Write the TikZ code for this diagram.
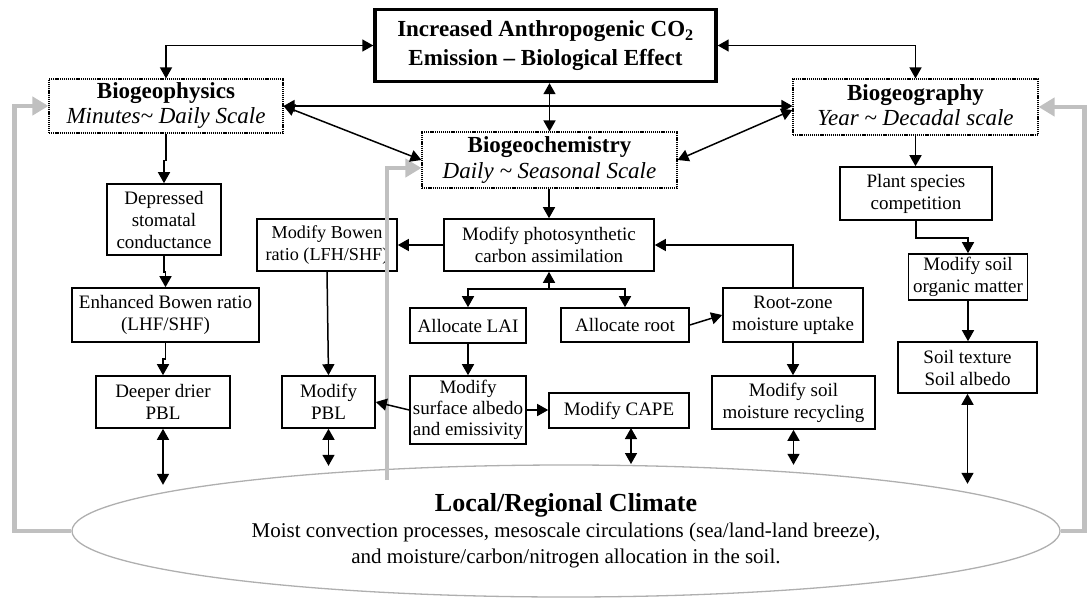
\documentclass[tikz,border=0pt]{standalone}
\usepackage{fontspec}
\setmainfont{Liberation Serif}
\usetikzlibrary{arrows.meta,calc,shapes.geometric}
\definecolor{loopgray}{RGB}{192,192,192}
\definecolor{rimgray}{RGB}{175,175,175}

\begin{document}
\begin{tikzpicture}[x=1pt,y=-1pt,
  proc/.style={draw, line width=1.6pt, inner sep=0pt, align=center,
    font=\fontsize{19}{22}\selectfont},
  scalebox/.style={draw, line width=1.1pt, dash pattern=on 1.2pt off 0.9pt,
    inner sep=0pt, align=center, font=\fontsize{23}{25}\selectfont},
  link/.style={line width=1.5pt, -{Triangle[length=11pt,width=12pt]}},
  twoway/.style={line width=1.5pt,
    {Triangle[length=11pt,width=12pt]}-{Triangle[length=11pt,width=12pt]}},
  feedback/.style={line width=4.7pt, draw=loopgray, line join=miter,
    -{Triangle[length=16pt,width=18pt,fill=loopgray]}}]

\useasboundingbox (0,0) rectangle (1089,597);

% central driver
\node[proc, line width=3.4pt, minimum width=341pt, minimum height=72pt,
  font=\bfseries\fontsize{23}{29}\selectfont] (source) at (545.5,45.5)
  {Increased Anthropogenic CO\textsubscript{2}\\Emission -- Biological Effect};

% time-scale headers
\node[scalebox, minimum width=234pt, minimum height=54pt] (geophys) at (166,106)
  {\textbf{Biogeophysics}\\\textit{Minutes\textasciitilde{} Daily Scale}\rule[-4pt]{0pt}{4pt}};
\node[scalebox, minimum width=245pt, minimum height=56pt] (geography) at (915.5,107)
  {\textbf{Biogeography}\\\textit{Year \textasciitilde{} Decadal scale}\rule[-4pt]{0pt}{4pt}};
\node[scalebox, minimum width=255pt, minimum height=56pt] (geochem) at (549.5,160)
  {\textbf{Biogeochemistry}\\\textit{Daily \textasciitilde{} Seasonal Scale}\rule[-4pt]{0pt}{4pt}};

% biogeophysics branch
\node[proc, minimum width=114pt, minimum height=71pt] (stomata) at (164,219.5)
  {Depressed\\stomatal\\conductance};
\node[proc, minimum width=187pt, minimum height=54pt] (bowenup) at (165.5,315)
  {Enhanced Bowen ratio\\(LHF/SHF)};
\node[proc, minimum width=134pt, minimum height=52pt] (drierpbl) at (163,402)
  {Deeper drier\\PBL};

% biogeochemistry branch
\node[proc, minimum width=140pt, minimum height=52pt,
  font=\fontsize{18.2}{22}\selectfont] (bowenmod) at (327,245)
  {Modify Bowen\\ratio (LFH/SHF)};
\node[proc, minimum width=93pt, minimum height=52pt] (pblmod) at (328.5,402)
  {Modify\\PBL};
\node[proc, minimum width=210pt, minimum height=52pt] (photo) at (549,245)
  {Modify photosynthetic\\carbon assimilation};
\node[proc, minimum width=116pt, minimum height=35pt] (lai) at (468,325.5)
  {Allocate LAI};
\node[proc, minimum width=128pt, minimum height=34pt] (rootalloc) at (625,325)
  {Allocate root};
\node[proc, minimum width=140pt, minimum height=54pt] (rootzone) at (793,315)
  {Root-zone\\moisture uptake};
\node[proc, minimum width=116pt, minimum height=68pt,
  font=\fontsize{19}{21.3}\selectfont] (albedo) at (468,410)
  {Modify\\surface albedo\\and emissivity};
\node[proc, minimum width=140pt, minimum height=35pt] (cape) at (619,410.5)
  {Modify CAPE};
\node[proc, minimum width=163pt, minimum height=53pt] (recycle) at (793.5,402.5)
  {Modify soil\\moisture recycling};

% biogeography branch
\node[proc, minimum width=152pt, minimum height=53pt] (species) at (916,193.5)
  {Plant species\\competition};
\node[proc, minimum width=119pt, minimum height=46pt] (organic) at (968,277)
  {Modify soil\\organic matter};
\node[proc, minimum width=139pt, minimum height=51pt] (texture) at (967.5,367.5)
  {Soil texture\\Soil albedo};

% climate system
\node[draw=rimgray, line width=1.3pt, ellipse, inner sep=0pt,
  minimum width=988pt, minimum height=132pt, align=center,
  font=\fontsize{21}{26}\selectfont] (climate) at (566,531)
  {{\bfseries\fontsize{26}{28}\selectfont Local/Regional Climate}\\
   Moist convection processes, mesoscale circulations (sea/land-land breeze),\\
   and moisture/carbon/nitrogen allocation in the soil.};

% feedback loops from the climate back to the headers
\coordinate (riseB) at (387,480);
\draw[feedback] (climate.west) -- ++(-57,0) |- (geophys.west);
\draw[feedback] (climate.east) -- ++(24,0) |- (geography.east);
\draw[feedback] (riseB) |- ($(geochem.west)+(0,8)$);

% links among the top level
\draw[twoway] (geophys.north) |- (source.west);
\draw[twoway] (geography.north) |- (source.east);
\draw[twoway] (source.south -| geochem.north) -- (geochem.north);
\draw[twoway] (geophys.east) -- (geophys.east -| geography.west);
\draw[twoway] (geophys.east) -- (geochem.west);
\draw[twoway] (geochem.east) -- ($(geography.west)+(0,3)$);

% biogeophysics chain
\draw[link] (geophys.south) -- ++(0,27) -| (stomata.north);
\draw[link] (stomata.south) -- ++(0,16) -| (bowenup.north);
\draw[link] (bowenup.south) -- ++(0,16) -| (drierpbl.north);

% biogeochemistry chain
\coordinate (fork) at (549,289);
\draw[link] (geochem.south -| photo.north) -- (photo.north);
\draw[link] (photo.west) -- (bowenmod.east);
\draw[link] (bowenmod.south) -- (pblmod.north);
\draw[link] (fork) -- (photo.south);
\draw[link] (fork) -| (lai.north);
\draw[link] (fork) -| (rootalloc.north);
\draw[link] (lai.south) -- (albedo.north);
\draw[link] (albedo.west) -- (pblmod.east);
\draw[link] (albedo.east) -- (albedo.east -| cape.west);
\draw[link] (rootalloc.east) -- (rootzone.west);
\draw[link] (rootzone.north) |- (photo.east);
\draw[link] (rootzone.south) -- (rootzone.south |- recycle.north);

% biogeography chain
\draw[link] (geography.south) -- (geography.south |- species.north);
\draw[link] (species.south) -- ++(0,17) -| (organic.north);
\draw[link] (organic.south) -- (organic.south |- texture.north);

% exchanges with the climate
\coordinate (capeout) at (631,428);
\coordinate (capein) at (631,464);
\draw[twoway] (drierpbl.south) -- ++(0,56);
\draw[twoway] (pblmod.south) -- ++(0,37);
\draw[twoway] (capeout) -- (capein);
\draw[twoway] (recycle.south) -- ++(0,35);
\draw[twoway] (texture.south) -- ++(0,90);
\end{tikzpicture}
\end{document}
